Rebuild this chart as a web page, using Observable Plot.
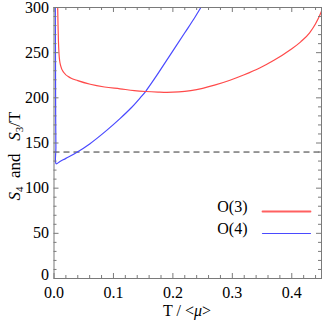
<!DOCTYPE html>
<html><head><meta charset="utf-8">
<script src="https://cdn.jsdelivr.net/npm/d3@7"></script>
<script src="https://cdn.jsdelivr.net/npm/@observablehq/plot@0.6"></script>
<style>body{margin:0;background:#fff} #chart{width:322px;height:321px}</style>
</head><body><div id="chart"></div>
<script>
// O(3) curve (red): T/<mu> and S3/T
const o3T = [0.0062, 0.0068, 0.0075, 0.0085, 0.0095, 0.011, 0.0165, 0.028, 0.04, 0.061, 0.085, 0.111, 0.135, 0.154, 0.175, 0.19, 0.21, 0.23, 0.25, 0.27, 0.296, 0.32, 0.346, 0.37, 0.397, 0.415, 0.43, 0.44, 0.45, 0.455];
const o3S = [300, 280, 262, 248, 241, 236, 228, 222, 219, 215, 212, 210, 208, 207, 206.3, 206, 206.5, 208, 210.5, 214, 219.5, 225.5, 233, 241.5, 253, 262, 272, 282, 296, 305];
// O(4) curve (blue): T/<mu> and S4
const o4T = [0.0022, 0.0025, 0.0028, 0.0032, 0.0036, 0.01, 0.02, 0.038, 0.06, 0.0886, 0.111, 0.13, 0.145, 0.154, 0.17, 0.195, 0.22, 0.235, 0.247];
const o4S = [300, 240, 180, 145, 127, 129.5, 133, 139.5, 149, 164, 177, 189, 200, 207, 222, 247, 272, 287, 300];
const refLevel = 140;
const legendLabels = ["O(3)", "O(4)"];
const legendColors = ["#ff4a4a", "#4a4aff"];
const xMajor = [0, 0.1, 0.2, 0.3, 0.4];
const xMinor = [0.02, 0.04, 0.06, 0.08, 0.12, 0.14, 0.16, 0.18, 0.22, 0.24, 0.26, 0.28, 0.32, 0.34, 0.36, 0.38, 0.42, 0.44];
const yMajor = [0, 50, 100, 150, 200, 250, 300];
const yMinor = [10, 20, 30, 40, 60, 70, 80, 90, 110, 120, 130, 140, 160, 170, 180, 190, 210, 220, 230, 240, 260, 270, 280, 290];

const o3 = o3T.map((t, i) => ({T: t, S: o3S[i]}));
const o4 = o4T.map((t, i) => ({T: t, S: o4S[i]}));

const W = 322, H = 321, mL = 53.5, mR = 1, mT = 7, mB = 43;
const frameW = W - mL - mR, frameH = H - mT - mB;
const fontFam = "'Liberation Serif','Times New Roman',serif";
const frameColor = "#7a7a7a";
const lineShape = {draw(ctx, l) { ctx.moveTo(0, 0); ctx.lineTo(0, -l); }};

// inward ticks drawn as short tick marks via insets
function ticksX(values, len, side) {
  const o = {x: d => d, stroke: frameColor, strokeWidth: 1};
  if (side === "bottom") o.insetTop = frameH - len; else o.insetBottom = frameH - len;
  return Plot.tickX(values, o);
}
function ticksY(values, len, side) {
  const o = {y: d => d, stroke: frameColor, strokeWidth: 1};
  if (side === "left") o.insetRight = frameW - len; else o.insetLeft = frameW - len;
  return Plot.tickY(values, o);
}

const plot = Plot.plot({
  width: W, height: H,
  marginLeft: mL, marginRight: mR, marginTop: mT, marginBottom: mB,
  style: {fontFamily: fontFam, fontSize: "16px", background: "#fff", color: "#000"},
  x: {domain: [0, 0.45]},
  y: {domain: [0, 300]},
  marks: [
    Plot.ruleY([refLevel], {stroke: "#333", strokeDasharray: "6,4", strokeWidth: 1}),
    Plot.line(o4, {x: "T", y: "S", stroke: legendColors[1], strokeWidth: 1.2, curve: "catmull-rom", clip: true}),
    Plot.line(o3, {x: "T", y: "S", stroke: legendColors[0], strokeWidth: 1.2, curve: "monotone-x", clip: true}),
    Plot.frame({stroke: frameColor}),
    ticksX(xMajor, 5, "bottom"), ticksX(xMajor, 5, "top"),
    ticksX(xMinor, 3, "bottom"), ticksX(xMinor, 3, "top"),
    ticksY(yMajor, 5, "left"), ticksY(yMajor, 5, "right"),
    ticksY(yMinor, 3, "left"), ticksY(yMinor, 3, "right"),
    Plot.axisX(xMajor, {tickSize: 0, tickPadding: 8, tickFormat: d3.format(".1f"), label: null, fill: "#000"}),
    Plot.axisY(yMajor.slice(1), {tickSize: 0, tickPadding: 5, label: null, fill: "#000"}),
    Plot.axisY(yMajor.slice(0, 1), {tickSize: 0, tickPadding: 5, dy: -4, label: null, fill: "#000"}),
    // legend
    Plot.text([legendLabels[0]], {x: null, y: null, text: d => d, frameAnchor: "bottom-right", textAnchor: "end", dx: -74, dy: -67, fill: "#000"}),
    Plot.text([legendLabels[1]], {x: null, y: null, text: d => d, frameAnchor: "bottom-right", textAnchor: "end", dx: -74, dy: -45, fill: "#000"}),
    Plot.vector([legendLabels[0]], {x: null, y: null, frameAnchor: "bottom-right", dx: -59, dy: -67, rotate: 90, length: 48, anchor: "start", shape: lineShape, stroke: "#ff6060", strokeWidth: 1.8}),
    Plot.vector([legendLabels[1]], {x: null, y: null, frameAnchor: "bottom-right", dx: -59, dy: -45, rotate: 90, length: 48, anchor: "start", shape: lineShape, stroke: legendColors[1], strokeWidth: 1.2})
  ]
});

const svg = d3.select(plot);
// y axis label
const yl = svg.append("text")
  .attr("transform", "translate(20,156) rotate(-90)")
  .attr("text-anchor", "middle")
  .attr("font-family", fontFam).attr("font-size", 17).attr("fill", "#000");
yl.append("tspan").attr("font-style", "italic").text("S");
yl.append("tspan").attr("font-size", 11).attr("dy", 3).text("4");
yl.append("tspan").attr("dy", -3).text("\u00a0\u00a0and\u00a0\u00a0\u00a0");
yl.append("tspan").attr("font-style", "italic").text("S");
yl.append("tspan").attr("font-size", 11).attr("dy", 3).text("3");
yl.append("tspan").attr("dy", -3).text("/T");
// x axis label
const xl = svg.append("text")
  .attr("x", 187).attr("y", 316)
  .attr("text-anchor", "middle")
  .attr("font-family", fontFam).attr("font-size", 16).attr("fill", "#000");
xl.append("tspan").text("T / <");
xl.append("tspan").attr("font-style", "italic").text("\u03bc");
xl.append("tspan").text(">");

document.getElementById("chart").appendChild(plot);
</script>
</body></html>
